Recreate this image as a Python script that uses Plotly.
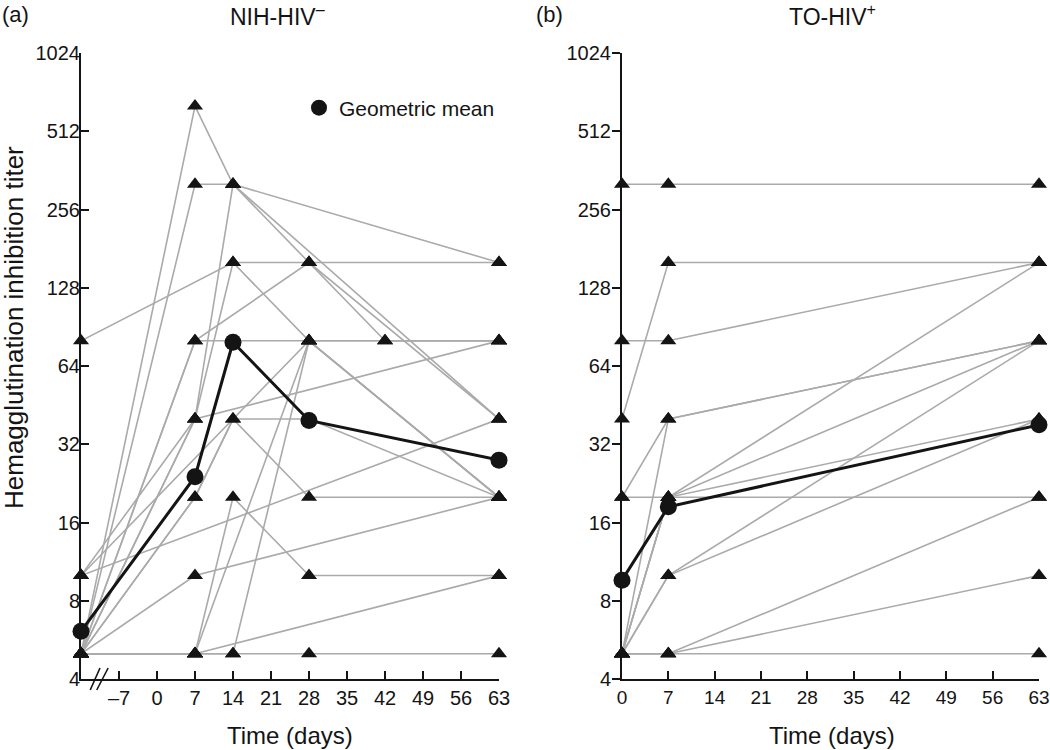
import plotly.graph_objects as go

# ---------------- data ----------------
NIH_DAYS = [-14, 7, 14, 28, 42, 63]
# one row per NIH-HIV- subject (None = not measured)
NIH_ROWS = [
    [80, None, 160, 160, None, 160],
    [5, 640, 320, None, None, 160],
    [5, 320, 320, 160, 80, 80],
    [5, 80, None, 160, None, 40],
    [5, 80, 80, 80, None, 20],
    [10, None, None, None, None, 40],
    [10, None, None, 80, 80, 80],
    [5, 40, 320, None, None, 40],
    [5, 40, 160, 80, None, 20],
    [10, 40, None, None, None, 80],
    [5, 20, 40, 40, None, 20],
    [5, 20, 40, 20, None, 20],
    [5, 10, None, None, None, 20],
    [5, 5, 20, 10, None, 10],
    [5, 5, None, 80, None, 20],
    [5, 5, 5, 80, None, 80],
    [5, 5, None, None, None, 10],
    [5, 5, 5, 5, None, 5],
]
NIH_GM_DAYS = [-14, 7, 14, 28, 63]
NIH_GM = [6.1, 24.0, 79.0, 39.5, 27.8]

TO_DAYS = [0, 7, 63]
TO_ROWS = [
    [320, 320, 320],
    [80, 80, 160],
    [40, 160, 160],
    [20, 40, 80],
    [5, 40, 80],
    [20, 20, 20],
    [5, 20, 160],
    [5, 20, 80],
    [5, 20, 40],
    [5, 10, 80],
    [5, 10, 40],
    [5, 5, 20],
    [5, 5, 10],
    [5, 5, 5],
]
TO_GM_DAYS = [0, 7, 63]
TO_GM = [9.6, 18.4, 38.0]

Y_TICKS = [4, 8, 16, 32, 64, 128, 256, 512, 1024]
NIH_X_TICKS = [-7, 0, 7, 14, 21, 28, 35, 42, 49, 56, 63]
TO_X_TICKS = [0, 7, 14, 21, 28, 35, 42, 49, 56, 63]

# ---------------- figure ----------------
FONT = "Liberation Sans, Arial, Helvetica, sans-serif"
GRAY = "#aaaaaa"
BLACK = "#141414"

fig = go.Figure()


def add_panel(days, rows, gm_days, gm, xa, ya):
    for r in rows:
        fig.add_trace(go.Scatter(x=days, y=r, mode="lines", connectgaps=True,
                                 line=dict(color=GRAY, width=1.6),
                                 xaxis=xa, yaxis=ya, showlegend=False,
                                 hoverinfo="skip"))
    px, py = [], []
    for r in rows:
        for d, v in zip(days, r):
            if v is not None:
                px.append(d)
                py.append(v)
    fig.add_trace(go.Scatter(x=px, y=py, mode="markers", cliponaxis=False,
                             marker=dict(symbol="triangle-up", size=14, color=BLACK,
                                         line=dict(width=0)),
                             xaxis=xa, yaxis=ya, showlegend=False))
    fig.add_trace(go.Scatter(x=gm_days, y=gm, mode="lines+markers", cliponaxis=False,
                             line=dict(color=BLACK, width=3),
                             marker=dict(symbol="circle", size=17, color=BLACK),
                             xaxis=xa, yaxis=ya, showlegend=False))


add_panel(NIH_DAYS, NIH_ROWS, NIH_GM_DAYS, NIH_GM, "x", "y")
add_panel(TO_DAYS, TO_ROWS, TO_GM_DAYS, TO_GM, "x2", "y2")

# legend-only entry
fig.add_trace(go.Scatter(x=[None], y=[None], mode="markers", name="Geometric mean",
                         marker=dict(symbol="circle", size=16, color=BLACK),
                         xaxis="x", yaxis="y", showlegend=True))

W, H = 1050, 750
Y0, Y1 = 71 / H, 697 / H

axis_common = dict(showgrid=False, zeroline=False, showline=True, linecolor=BLACK,
                   linewidth=2, tickcolor=BLACK, tickwidth=2, ticklen=8,
                   automargin=False)
tf20 = dict(family=FONT, size=20, color=BLACK)
tf19 = dict(family=FONT, size=19, color=BLACK)

yaxis_common = dict(type="log", range=[0.60206, 3.0103], tickvals=Y_TICKS,
                    ticktext=[str(v) for v in Y_TICKS], domain=[Y0, Y1],
                    tickfont=tf20, **axis_common)


def lab(v):
    return ("\u2013" + str(-v)) if v < 0 else str(v)


fig.update_layout(
    width=W, height=H, margin=dict(l=0, r=0, t=0, b=0),
    plot_bgcolor="white", paper_bgcolor="white",
    font=dict(family=FONT, color=BLACK),
    xaxis=dict(domain=[81 / W, 499 / W], range=[-14, 63], tickvals=NIH_X_TICKS,
               ticktext=[lab(v) for v in NIH_X_TICKS], ticks="inside", anchor="y",
               ticklabelstandoff=0, tickfont=tf20, **axis_common),
    yaxis=dict(anchor="x", ticks="inside", ticklabelstandoff=-5, **yaxis_common),
    xaxis2=dict(domain=[622 / W, 1039 / W], range=[0, 63], tickvals=TO_X_TICKS,
                ticktext=[lab(v) for v in TO_X_TICKS], ticks="inside", anchor="y2",
                ticklabelstandoff=0, tickfont=tf19, **axis_common),
    yaxis2=dict(anchor="x2", ticks="outside", ticklabelstandoff=-3, **yaxis_common),
    showlegend=True,
    legend=dict(x=299 / W, y=1 - 108 / H, xanchor="left", yanchor="middle",
                bgcolor="rgba(0,0,0,0)", font=dict(family=FONT, size=21, color=BLACK)),
)

ann_font = dict(family=FONT, size=23, color=BLACK)
title_font = dict(family=FONT, size=24, color=BLACK)
annotations = [
    dict(text="(a)", x=0 / W, y=1 - 14 / H, xanchor="left", yanchor="middle",
         font=dict(family=FONT, size=22, color=BLACK)),
    dict(text="NIH-HIV<sup>\u2013</sup>", x=277 / W, y=1 - 15 / H, xanchor="center", yanchor="middle"),
    dict(text="(b)", x=534 / W, y=1 - 14 / H, xanchor="left", yanchor="middle",
         font=dict(family=FONT, size=22, color=BLACK)),
    dict(text="TO-HIV<sup>+</sup>", x=832 / W, y=1 - 15 / H, xanchor="center", yanchor="middle"),
    dict(text="Time (days)", x=290 / W, y=1 - 735 / H, xanchor="center", yanchor="middle",
         font=title_font),
    dict(text="Time (days)", x=832 / W, y=1 - 735 / H, xanchor="center", yanchor="middle",
         font=title_font),
    dict(text="Hemagglutination inhibition titer", x=14 / W, y=1 - 328 / H,
         xanchor="center", yanchor="middle", textangle=-90,
         font=dict(family=FONT, size=26, color=BLACK)),
]
for a in annotations:
    a.update(xref="paper", yref="paper", showarrow=False)
    a.setdefault("font", ann_font)
fig.update_layout(annotations=annotations)

# axis-break marks on the left x axis
for x0, x1 in [(-12.3, -10.5), (-11.1, -9.0)]:
    fig.add_shape(type="line", xref="x", yref="paper", x0=x0, x1=x1,
                  y0=(H - 690) / H, y1=(H - 668) / H,
                  line=dict(color=BLACK, width=1.6))

fig.write_html("out.html", config={"displayModeBar": False},
               post_script="document.body.style.margin='0px';")
